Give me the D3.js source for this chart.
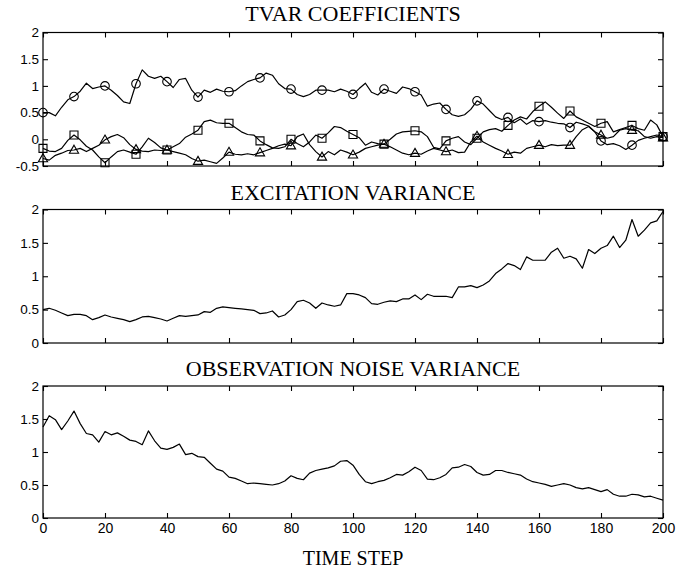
<!DOCTYPE html>
<html>
<head>
<meta charset="UTF-8">
<style>
  body { margin: 0; background: #fff; }
  svg { display: block; }
  .tick text { font-family: "Liberation Sans", Arial, sans-serif; font-size: 13.5px; fill: #000; }
  .tick line { stroke: #000; stroke-width: 1.1px; }
  .title { font-family: "Liberation Serif", "Times New Roman", serif; font-size: 22px; fill: #000; }
</style>
</head>
<body>
<svg id="chart"></svg>
<script src="https://d3js.org/d3.v7.min.js"></script>
<script>
// time steps sampled every 2 steps, markers every 10
const steps = d3.range(0, 201, 2);

// TVAR coefficients (circle, square, triangle)
const coefCircle = [
  0.50, 0.50, 0.44, 0.60, 0.74, 0.80, 0.90, 1.05, 0.95, 0.98,
  1.00, 0.92, 0.82, 0.70, 0.67, 1.04, 1.30, 1.18, 1.14, 1.18,
  1.08, 0.97, 1.12, 1.14, 0.92, 0.79, 0.92, 0.88, 0.94, 0.90,
  0.89, 0.91, 1.00, 1.08, 1.12, 1.15, 1.24, 1.20, 1.04, 0.95,
  0.94, 0.84, 0.80, 0.84, 0.92, 0.92, 0.92, 0.89, 0.94, 0.90,
  0.84, 0.95, 1.05, 0.88, 0.83, 0.94, 0.90, 0.86, 0.98, 0.95,
  0.89, 0.83, 0.62, 0.66, 0.68, 0.56, 0.46, 0.43, 0.46, 0.56,
  0.72, 0.66, 0.54, 0.42, 0.37, 0.41, 0.31, 0.38, 0.28, 0.35,
  0.33, 0.35, 0.32, 0.30, 0.29, 0.22, 0.32, 0.29, 0.25, 0.14,
  -0.03, -0.10, -0.08, -0.12, -0.19, -0.11, -0.02, 0.02, 0.05, 0.08, 0.05
];
const coefSquare = [
  -0.17, -0.22, -0.23, -0.17, -0.02, 0.08, -0.01, -0.13, -0.20, -0.33,
  -0.44, -0.33, -0.23, -0.20, -0.24, -0.28, -0.14, 0.02, -0.06, -0.16,
  -0.20, -0.14, -0.08, 0.04, 0.10, 0.17, 0.33, 0.36, 0.31, 0.30,
  0.30, 0.22, 0.14, 0.09, 0.08, -0.03, -0.10, -0.16, -0.17, -0.14,
  0.00, -0.08, -0.14, -0.05, 0.08, 0.02, 0.12, 0.24, 0.22, 0.15,
  0.09, 0.03, -0.11, -0.05, -0.08, -0.09, 0.00, 0.10, 0.14, 0.15,
  0.16, 0.14, 0.05, -0.15, -0.18, -0.03, 0.02, 0.05, -0.05, -0.10,
  0.02, 0.14, 0.18, 0.20, 0.15, 0.26, 0.36, 0.42, 0.38, 0.52,
  0.62, 0.70, 0.60, 0.49, 0.39, 0.53, 0.42, 0.36, 0.30, 0.24,
  0.30, 0.33, 0.14, 0.18, 0.22, 0.26, 0.20, 0.17, 0.36, 0.27, 0.05
];
const coefTriangle = [
  -0.36, -0.39, -0.30, -0.26, -0.21, -0.20, -0.17, -0.23, -0.17, -0.11,
  -0.01, 0.05, 0.09, 0.03, -0.10, -0.19, -0.22, -0.23, -0.20, -0.21,
  -0.20, -0.23, -0.26, -0.29, -0.36, -0.41, -0.39, -0.42, -0.45, -0.35,
  -0.24, -0.28, -0.29, -0.27, -0.29, -0.25, -0.21, -0.17, -0.12, -0.09,
  -0.12, 0.05, 0.10, -0.10, -0.23, -0.33, -0.23, -0.29, -0.20, -0.24,
  -0.29, -0.24, -0.17, -0.14, -0.11, -0.09, -0.14, -0.20, -0.26, -0.29,
  -0.26, -0.28, -0.22, -0.17, -0.20, -0.23, -0.20, -0.25, -0.24, -0.05,
  0.06, -0.05, -0.11, -0.17, -0.22, -0.28, -0.24, -0.26, -0.17, -0.14,
  -0.11, -0.14, -0.10, -0.12, -0.11, -0.11, 0.05, 0.18, 0.24, 0.14,
  0.08, 0.02, 0.05, 0.17, 0.20, 0.17, 0.16, 0.05, 0.02, 0.05, 0.03
];

const excitationVar = [
  0.50, 0.52, 0.49, 0.45, 0.41, 0.43, 0.43, 0.41, 0.35, 0.38,
  0.42, 0.39, 0.37, 0.35, 0.32, 0.35, 0.39, 0.40, 0.38, 0.36,
  0.33, 0.37, 0.41, 0.40, 0.41, 0.42, 0.47, 0.46, 0.52, 0.54,
  0.53, 0.52, 0.51, 0.50, 0.49, 0.44, 0.45, 0.48, 0.39, 0.42,
  0.50, 0.62, 0.64, 0.60, 0.52, 0.60, 0.57, 0.55, 0.57, 0.74,
  0.74, 0.72, 0.68, 0.59, 0.58, 0.61, 0.63, 0.62, 0.66, 0.66,
  0.72, 0.65, 0.73, 0.70, 0.70, 0.70, 0.68, 0.84, 0.84, 0.86,
  0.83, 0.87, 0.93, 1.04, 1.11, 1.19, 1.16, 1.10, 1.29, 1.24,
  1.24, 1.24, 1.36, 1.42, 1.27, 1.30, 1.26, 1.12, 1.40, 1.34,
  1.42, 1.46, 1.60, 1.43, 1.54, 1.85, 1.60, 1.69, 1.80, 1.83, 1.97
];

const noiseVar = [
  1.38, 1.55, 1.49, 1.34, 1.47, 1.62, 1.43, 1.28, 1.26, 1.15,
  1.31, 1.26, 1.29, 1.24, 1.18, 1.16, 1.11, 1.32, 1.17, 1.06,
  1.04, 1.07, 1.12, 0.96, 0.98, 0.93, 0.92, 0.83, 0.74, 0.71,
  0.62, 0.60, 0.56, 0.52, 0.53, 0.52, 0.51, 0.50, 0.52, 0.56,
  0.64, 0.60, 0.58, 0.68, 0.72, 0.74, 0.76, 0.79, 0.86, 0.87,
  0.80, 0.66, 0.55, 0.52, 0.55, 0.57, 0.61, 0.66, 0.65, 0.70,
  0.77, 0.72, 0.59, 0.58, 0.61, 0.66, 0.76, 0.77, 0.81, 0.78,
  0.69, 0.65, 0.66, 0.72, 0.72, 0.69, 0.67, 0.65, 0.59, 0.55,
  0.53, 0.51, 0.48, 0.50, 0.52, 0.50, 0.46, 0.44, 0.46, 0.43,
  0.40, 0.43, 0.36, 0.33, 0.33, 0.36, 0.35, 0.32, 0.33, 0.30, 0.27
];

const xTicks = d3.range(0, 201, 20);
const yTicksCoef = [-0.5, 0, 0.5, 1, 1.5, 2];
const yTicksVar = [0, 0.5, 1, 1.5, 2];

const width = 697, height = 574;
const left = 43, right = 663;

const svg = d3.select("#chart")
  .attr("width", width)
  .attr("height", height);

const x = d3.scaleLinear().domain([0, 200]).range([left, right]);

const panels = [
  { title: "TVAR COEFFICIENTS", top: 32.5, bottom: 166, domain: [-0.5, 2], ticks: yTicksCoef, titleY: 21,
    series: [
      { values: coefCircle, marker: "circle" },
      { values: coefSquare, marker: "square" },
      { values: coefTriangle, marker: "triangle" }
    ] },
  { title: "EXCITATION VARIANCE", top: 209.5, bottom: 343, domain: [0, 2], ticks: yTicksVar, titleY: 200,
    series: [{ values: excitationVar }] },
  { title: "OBSERVATION NOISE VARIANCE", top: 386, bottom: 518, domain: [0, 2], ticks: yTicksVar, titleY: 376,
    series: [{ values: noiseVar }], xLabels: true }
];

const markerPath = {
  circle: d3.symbol().type(d3.symbolCircle).size(Math.PI * 4.3 * 4.3)(),
  square: "M-4,-4H4V4H-4Z",
  triangle: "M0,-4.8L4.6,3.2H-4.6Z"
};

const tickLen = 5;

panels.forEach(p => {
  const y = d3.scaleLinear().domain(p.domain).range([p.bottom, p.top]);
  const g = svg.append("g");

  // axes, ticks point inward on all four sides
  const bottomAxis = d3.axisBottom(x).tickValues(xTicks).tickSize(-tickLen).tickSizeOuter(0).tickPadding(5);
  if (!p.xLabels) bottomAxis.tickFormat("");
  g.append("g").attr("transform", `translate(0,${p.bottom})`).call(bottomAxis)
    .call(a => a.select(".domain").remove())
    .selectAll("text").style("font-size", "14px");

  g.append("g").attr("transform", `translate(0,${p.top})`)
    .call(d3.axisTop(x).tickValues(xTicks).tickSize(-tickLen).tickSizeOuter(0).tickFormat(""))
    .call(a => a.select(".domain").remove());

  g.append("g").attr("transform", `translate(${left},0)`)
    .call(d3.axisLeft(y).tickValues(p.ticks).tickSize(-tickLen).tickSizeOuter(0).tickPadding(4)
      .tickFormat(d => String(d)))
    .call(a => a.select(".domain").remove());

  g.append("g").attr("transform", `translate(${right},0)`)
    .call(d3.axisRight(y).tickValues(p.ticks).tickSize(-tickLen).tickSizeOuter(0).tickFormat(""))
    .call(a => a.select(".domain").remove());

  g.append("rect")
    .attr("x", left).attr("y", p.top)
    .attr("width", right - left).attr("height", p.bottom - p.top)
    .attr("fill", "none").attr("stroke", "#000").attr("stroke-width", 1.2);

  g.append("text")
    .attr("class", "title")
    .attr("x", (left + right) / 2)
    .attr("y", p.titleY)
    .attr("text-anchor", "middle")
    .text(p.title);

  const line = d3.line().x((d, i) => x(steps[i])).y(d => y(d));

  p.series.forEach(s => {
    g.append("path")
      .datum(s.values)
      .attr("fill", "none")
      .attr("stroke", "#000")
      .attr("stroke-width", 1.2)
      .attr("stroke-linejoin", "round")
      .attr("d", line);

    if (s.marker) {
      const pts = s.values.map((v, i) => ({ t: steps[i], v })).filter(d => d.t % 10 === 0);
      g.append("g").selectAll("path")
        .data(pts)
        .join("path")
        .attr("transform", d => `translate(${x(d.t)},${y(d.v)})`)
        .attr("d", markerPath[s.marker])
        .attr("fill", "none")
        .attr("stroke", "#000")
        .attr("stroke-width", 1.1);
    }
  });
});

svg.append("text")
  .attr("class", "title")
  .attr("x", (left + right) / 2)
  .attr("y", 565)
  .attr("text-anchor", "middle")
  .style("font-size", "20px")
  .text("TIME STEP");
</script>
</body>
</html>
